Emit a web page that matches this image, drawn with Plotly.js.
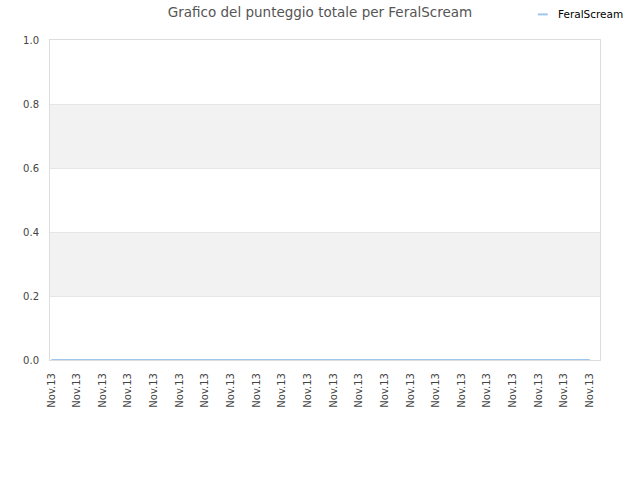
<!DOCTYPE html>
<html>
<head>
<meta charset="utf-8">
<script src="https://cdn.plot.ly/plotly-3.0.1.min.js"></script>
<style>html,body{margin:0;padding:0;background:#fff;}#chart{width:640px;height:480px;}</style>
</head>
<body>
<div id="chart"></div>
<script>
const seriesName = "FeralScream";
const chartTitle = "Grafico del punteggio totale per FeralScream";
const dateLabels = ["Nov.13","Nov.13","Nov.13","Nov.13","Nov.13","Nov.13","Nov.13","Nov.13","Nov.13","Nov.13","Nov.13",
                    "Nov.13","Nov.13","Nov.13","Nov.13","Nov.13","Nov.13","Nov.13","Nov.13","Nov.13","Nov.13","Nov.13"];
const scores = [0,0,0,0,0,0,0,0,0,0,0,0,0,0,0,0,0,0,0,0,0,0];
const yTicks = [0,0.2,0.4,0.6,0.8,1.0];
const bands = [[0.2,0.4],[0.6,0.8]];

const xIdx = dateLabels.map((_, i) => i);
const lineColor = "#9fc7ee";

const shapes = bands.map(b => ({
  type: "rect", xref: "paper", yref: "y", x0: 0, x1: 1, y0: b[0], y1: b[1],
  fillcolor: "#f2f2f2", line: {width: 0}, layer: "below"
}));
shapes.push({type: "line", xref: "paper", yref: "paper", x0: 0.887, x1: 0.905, y0: 1.08, y1: 1.08,
  line: {color: lineColor, width: 2}});

const trace = {
  x: xIdx, y: scores, type: "scatter", mode: "lines", name: seriesName,
  line: {color: lineColor, width: 2}, cliponaxis: false, showlegend: false
};

const layout = {
  width: 640, height: 480,
  margin: {l: 50, r: 40, t: 40, b: 120},
  paper_bgcolor: "#fff", plot_bgcolor: "#fff",
  font: {family: "DejaVu Sans, sans-serif", size: 10, color: "#444"},
  title: {text: chartTitle, x: 0.5, xanchor: "center", y: 0.975, yanchor: "middle",
          font: {size: 13.5, color: "#555"}},
  xaxis: {
    range: [-0.05, 21.4], tickmode: "array", tickvals: xIdx, ticktext: dateLabels,
    tickangle: -90, showgrid: false, zeroline: false, showline: true, mirror: true,
    linecolor: "#dddddd", linewidth: 1, ticks: "", tickfont: {size: 10, color: "#444"},
    ticklabelstandoff: 8, layer: "below traces"
  },
  yaxis: {
    range: [0, 1], tickmode: "array", tickvals: yTicks, ticktext: yTicks.map(v => v.toFixed(1)),
    showgrid: true, gridcolor: "#e6e6e6", zeroline: false, showline: true, mirror: true,
    linecolor: "#dddddd", linewidth: 1, ticks: "", tickfont: {size: 10, color: "#444"}, ticklabelstandoff: 8,
    layer: "below traces"
  },
  shapes: shapes,
  annotations: [{
    xref: "paper", yref: "paper", x: 0.92, y: 1.08, xanchor: "left", yanchor: "middle",
    text: seriesName, showarrow: false, font: {size: 10.5, color: "#000"}
  }],
  showlegend: false
};

Plotly.newPlot("chart", [trace], layout, {displayModeBar: false, staticPlot: true});
</script>
</body>
</html>
